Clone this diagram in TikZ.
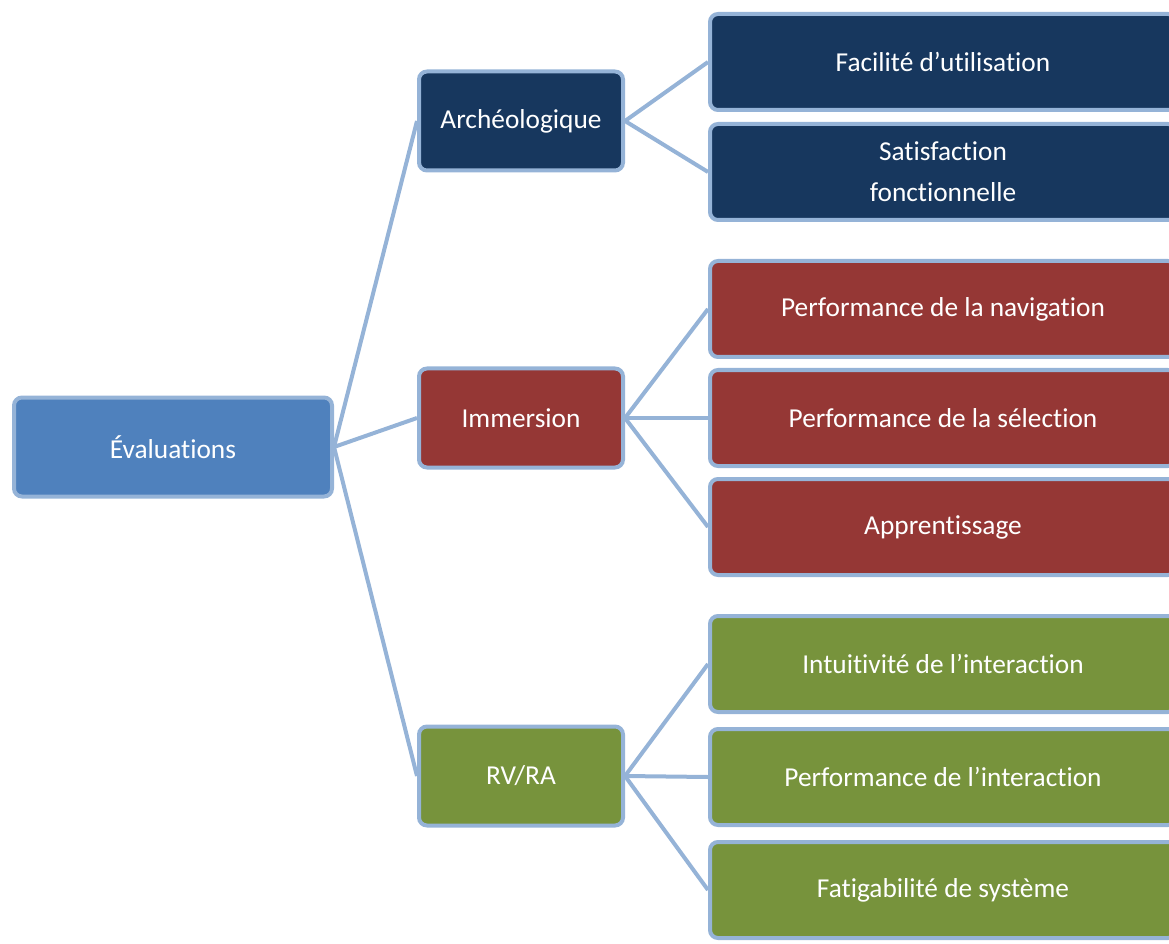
\documentclass[tikz,border=0pt]{standalone}
\usepackage{fontspec}
\setmainfont{Carlito}[Ligatures=NoCommon]
\usetikzlibrary{positioning}
\definecolor{edgeblue}{HTML}{95B3D7}
\definecolor{rootblue}{HTML}{4F81BD}
\definecolor{navy}{HTML}{17375E}
\definecolor{brick}{HTML}{953735}
\definecolor{olive}{HTML}{77933C}
\begin{document}
\begin{tikzpicture}[x=0.75pt, y=-0.75pt,
  every node/.style={font=\fontsize{20.5}{31}\selectfont, text=white, draw=edgeblue, line width=3pt, rounded corners=6pt, align=center},
  parentbox/.style={minimum width=153pt, minimum height=74.25pt},
  leafbox/.style={minimum width=349.5pt, minimum height=72pt},
  link/.style={draw=edgeblue, line width=3pt}]
\useasboundingbox (0,0) rectangle (1169,944);
\node[fill=rootblue, minimum width=238.5pt, minimum height=74.25pt] (eval) at (173,447) {Évaluations};
\node[parentbox, fill=navy] (arch) at (521,121) {Archéologique};
\node[parentbox, fill=brick] (imm) at (521,418) {Immersion};
\node[parentbox, fill=olive] (rvra) at (521,776) {RV/RA};
\node[leafbox, fill=navy] (facil) at (943,62) {Facilité d’utilisation};
\node[leafbox, fill=navy] (satis) at (943,172) {Satisfaction\\fonctionnelle};
\node[leafbox, fill=brick] (nav) at (943,309) {Performance de la navigation};
\node[leafbox, fill=brick] (sel) at (943,418) {Performance de la sélection};
\node[leafbox, fill=brick] (appr) at (943,527) {Apprentissage};
\node[leafbox, fill=olive] (intu) at (943,664) {Intuitivité de l’interaction};
\node[leafbox, fill=olive] (perf) at (943,777) {Performance de l’interaction};
\node[leafbox, fill=olive] (fatig) at (943,890) {Fatigabilité de système};
\foreach \a/\b in {eval/arch,eval/imm,eval/rvra,arch/facil,arch/satis,imm/nav,imm/sel,imm/appr,rvra/intu,rvra/perf,rvra/fatig}
  \path[link] (\a.east) -- (\b.west);
\end{tikzpicture}
\end{document}
